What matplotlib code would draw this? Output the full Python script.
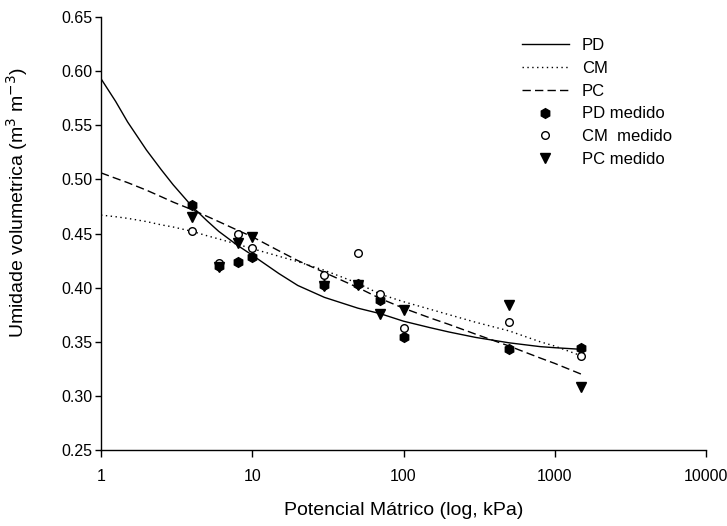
import matplotlib
matplotlib.use("Agg")
import matplotlib.pyplot as plt
from matplotlib.ticker import FixedLocator, FixedFormatter

plt.rcParams['font.family'] = ['Liberation Sans', 'DejaVu Sans']

# fitted curves
x_fit = [1, 1.25, 1.5, 2, 2.5, 3, 4, 5, 6, 8, 10, 15, 20, 30, 50, 70,
         100, 150, 200, 300, 500, 800, 1000, 1500]
pd_fit = [0.593, 0.572, 0.553, 0.527, 0.509, 0.495, 0.475, 0.462, 0.452, 0.439,
          0.430, 0.413, 0.402, 0.391, 0.381, 0.376, 0.369, 0.363, 0.359, 0.354,
          0.349, 0.3455, 0.3445, 0.343]
cm_fit = [0.467, 0.4655, 0.464, 0.461, 0.458, 0.456, 0.452, 0.448, 0.445, 0.440,
          0.436, 0.429, 0.424, 0.416, 0.404, 0.394, 0.387, 0.380, 0.375, 0.368,
          0.360, 0.350, 0.346, 0.337]
pc_fit = [0.506, 0.501, 0.497, 0.490, 0.484, 0.479, 0.472, 0.466, 0.461, 0.453,
          0.447, 0.434, 0.425, 0.414, 0.400, 0.390, 0.381, 0.372, 0.366, 0.357,
          0.346, 0.335, 0.330, 0.320]

# measured points
x_med = [4, 6, 8, 10, 30, 50, 70, 100, 500, 1500]
pd_med = [0.476, 0.420, 0.424, 0.428, 0.402, 0.403, 0.389, 0.354, 0.343, 0.344]
cm_med = [0.452, 0.4225, 0.4495, 0.437, 0.412, 0.432, 0.394, 0.363, 0.368, 0.337]
pc_med = [0.4655, 0.419, 0.441, 0.447, 0.4015, 0.4025, 0.3757, 0.379, 0.384, 0.3085]

fig = plt.figure(figsize=(7.27, 5.26), dpi=100)
ax = fig.add_axes([101/727, 1-450/526, 605/727, 433/526])

ax.plot(x_fit, pd_fit, color='black', lw=1.0, ls='-', label='PD')
ax.plot(x_fit, cm_fit, color='black', lw=1.0, ls=(0, (1, 2.5)), label='CM')
ax.plot(x_fit, pc_fit, color='black', lw=1.0, ls=(0, (6, 3)), label='PC')
ax.plot(x_med, pd_med, ls='none', marker='h', ms=7, color='black', label='PD medido')
ax.plot(x_med, cm_med, ls='none', marker='o', ms=5.5, mfc='white', mec='black',
        mew=1.0, label='CM  medido')
ax.plot(x_med, pc_med, ls='none', marker='v', ms=7, color='black', label='PC medido')

ax.set_xscale('log')
ax.set_xlim(1, 10000)
ax.set_ylim(0.25, 0.65)
ax.xaxis.set_major_locator(FixedLocator([1, 10, 100, 1000, 10000]))
ax.xaxis.set_major_formatter(FixedFormatter(['1', '10', '100', '1000', '10000']))
ax.xaxis.set_minor_locator(FixedLocator([]))
yt = [0.25, 0.30, 0.35, 0.40, 0.45, 0.50, 0.55, 0.60, 0.65]
ax.set_yticks(yt)
ax.set_yticklabels(['%.2f' % v for v in yt])

for s in ['top', 'right']:
    ax.spines[s].set_visible(False)
for s in ['left', 'bottom']:
    ax.spines[s].set_linewidth(1.0)
ax.tick_params(direction='out', length=5, width=1.0, labelsize=11.5)
ax.tick_params(axis='x', pad=9)
ax.tick_params(axis='y', length=4, pad=2)

ax.set_xlabel('Potencial Mátrico (log, kPa)', fontsize=14)
ax.xaxis.set_label_coords(0.5, -0.12)
ax.set_ylabel('Umidade volumetrica (m$^{3}$ m$^{-3}$)', fontsize=14)
ax.yaxis.set_label_coords(-0.117, 0.57)

ax.legend(loc='upper left', bbox_to_anchor=(522/727, 1-38/526),
          bbox_transform=fig.transFigure, frameon=False, fontsize=12,
          handlelength=2.8, handletextpad=0.8, labelspacing=0.47,
          borderpad=0, borderaxespad=0)

fig.savefig('out.png', dpi=100)
